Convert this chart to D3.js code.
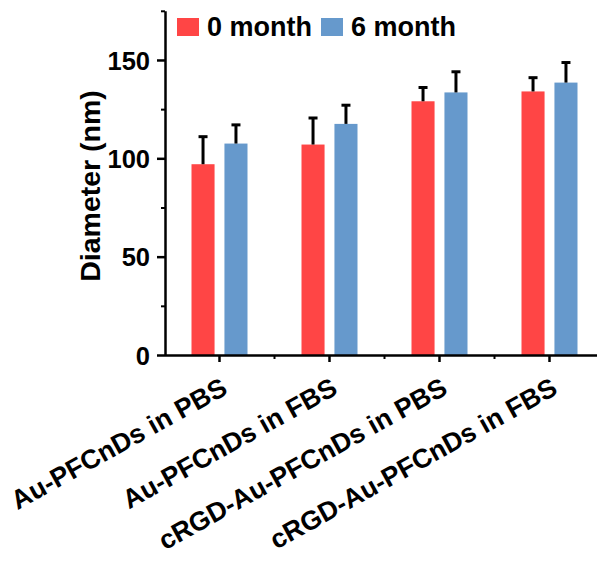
<!DOCTYPE html>
<html>
<head>
<meta charset="utf-8">
<script src="https://cdn.jsdelivr.net/npm/d3@7"></script>
<style>
  html, body { margin: 0; padding: 0; background: #fff; }
  svg { display: block; }
  text { font-family: "Liberation Sans", Arial, sans-serif; font-weight: bold; fill: #000; }
</style>
</head>
<body>
<svg id="chart" width="597" height="565"></svg>
<script>
// Particle diameter before and after 6 months of storage
const categories = ["Au-PFCnDs in PBS", "Au-PFCnDs in FBS", "cRGD-Au-PFCnDs in PBS", "cRGD-Au-PFCnDs in FBS"];
const seriesNames = ["0 month", "6 month"];
const month0 = [97, 107, 129, 134];
const month0Err = [14, 13.5, 7, 7];
const month6 = [107.5, 117.5, 133.5, 138.5];
const month6Err = [9.5, 9.5, 10.5, 10.2];
const yMajorTicks = [0, 50, 100, 150];
const yMinorTicks = [25, 75, 125, 175];
const colors = ["#FF4545", "#6699CC"];

const svg = d3.select("#chart");

const x = d3.scaleBand().domain(categories).range([164.5, 604.5]).padding(0);
const xInner = d3.scaleBand().domain(seriesNames).range([-28, 28]).paddingInner(0.3);
const y = d3.scaleLinear().domain([0, 175]).range([355, 10.8]);

const rows = categories.map((c, i) => ({
  cat: c,
  vals: [
    { s: seriesNames[0], v: month0[i], e: month0Err[i], color: colors[0] },
    { s: seriesNames[1], v: month6[i], e: month6Err[i], color: colors[1] }
  ]
}));

// Bars
const groups = svg.append("g").selectAll("g").data(rows).join("g")
  .attr("transform", d => `translate(${x(d.cat) + x.bandwidth() / 2},0)`);

groups.selectAll("rect").data(d => d.vals).join("rect")
  .attr("x", d => xInner(d.s))
  .attr("width", xInner.bandwidth())
  .attr("y", d => y(d.v))
  .attr("height", d => y(0) - y(d.v))
  .attr("fill", d => d.color);

// Error bars (upper half only)
const eb = groups.selectAll("g.err").data(d => d.vals).join("g").attr("class", "err")
  .attr("transform", d => `translate(${xInner(d.s) + xInner.bandwidth() / 2},0)`);
eb.append("line")
  .attr("x1", 0).attr("x2", 0)
  .attr("y1", d => y(d.v)).attr("y2", d => y(d.v + d.e))
  .attr("stroke", "#000").attr("stroke-width", 3);
eb.append("line")
  .attr("x1", -4.5).attr("x2", 4.5)
  .attr("y1", d => y(d.v + d.e)).attr("y2", d => y(d.v + d.e))
  .attr("stroke", "#000").attr("stroke-width", 3);

// Y axis: major ticks with labels, minor ticks without
const yAxis = svg.append("g").attr("transform", "translate(165,0)");
yAxis.call(d3.axisLeft(y).tickValues(yMajorTicks).tickSize(8).tickPadding(7).tickSizeOuter(0))
  .call(g => g.select(".domain").attr("stroke-width", 2.5))
  .call(g => g.selectAll(".tick line").attr("stroke-width", 2.5))
  .call(g => g.selectAll(".tick text").attr("font-size", 25.5).attr("font-family", null).attr("font-weight", "bold").attr("dy", "0.36em"));
yAxis.append("g").call(d3.axisLeft(y).tickValues(yMinorTicks).tickSize(4).tickFormat(""))
  .call(g => g.select(".domain").remove())
  .call(g => g.selectAll(".tick line").attr("stroke-width", 2));

// X axis
const xAxis = svg.append("g").attr("transform", "translate(0,355)");
xAxis.call(d3.axisBottom(x).tickSize(7).tickSizeOuter(0).tickFormat(""))
  .call(g => g.select(".domain").attr("stroke-width", 2.5))
  .call(g => g.selectAll(".tick line").attr("stroke-width", 2.5));
const boundaries = categories.slice(1).map(c => x(c));
xAxis.selectAll("line.minor").data(boundaries).join("line").attr("class", "minor")
  .attr("x1", d => d).attr("x2", d => d).attr("y1", 0).attr("y2", 4)
  .attr("stroke", "#000").attr("stroke-width", 2);

// Rotated category labels
svg.append("g").selectAll("text").data(categories).join("text")
  .attr("transform", d => `translate(${x(d) + x.bandwidth() / 2 + 9.5},393) rotate(-29)`)
  .attr("text-anchor", "end")
  .attr("font-size", 26.7)
  .text(d => d);

// Y axis title
svg.append("text")
  .attr("transform", "translate(99.5,186) rotate(-90)")
  .attr("text-anchor", "middle")
  .attr("font-size", 28.5)
  .text("Diameter (nm)");

// Legend
const legendX = [177, 321];
const legend = svg.append("g").selectAll("g").data(seriesNames).join("g")
  .attr("transform", (d, i) => `translate(${legendX[i]},18)`);
legend.append("rect").attr("width", 22).attr("height", 18).attr("fill", (d, i) => colors[i]);
legend.append("text").attr("x", 30).attr("y", 18).attr("font-size", 27).text(d => d);
</script>
</body>
</html>
